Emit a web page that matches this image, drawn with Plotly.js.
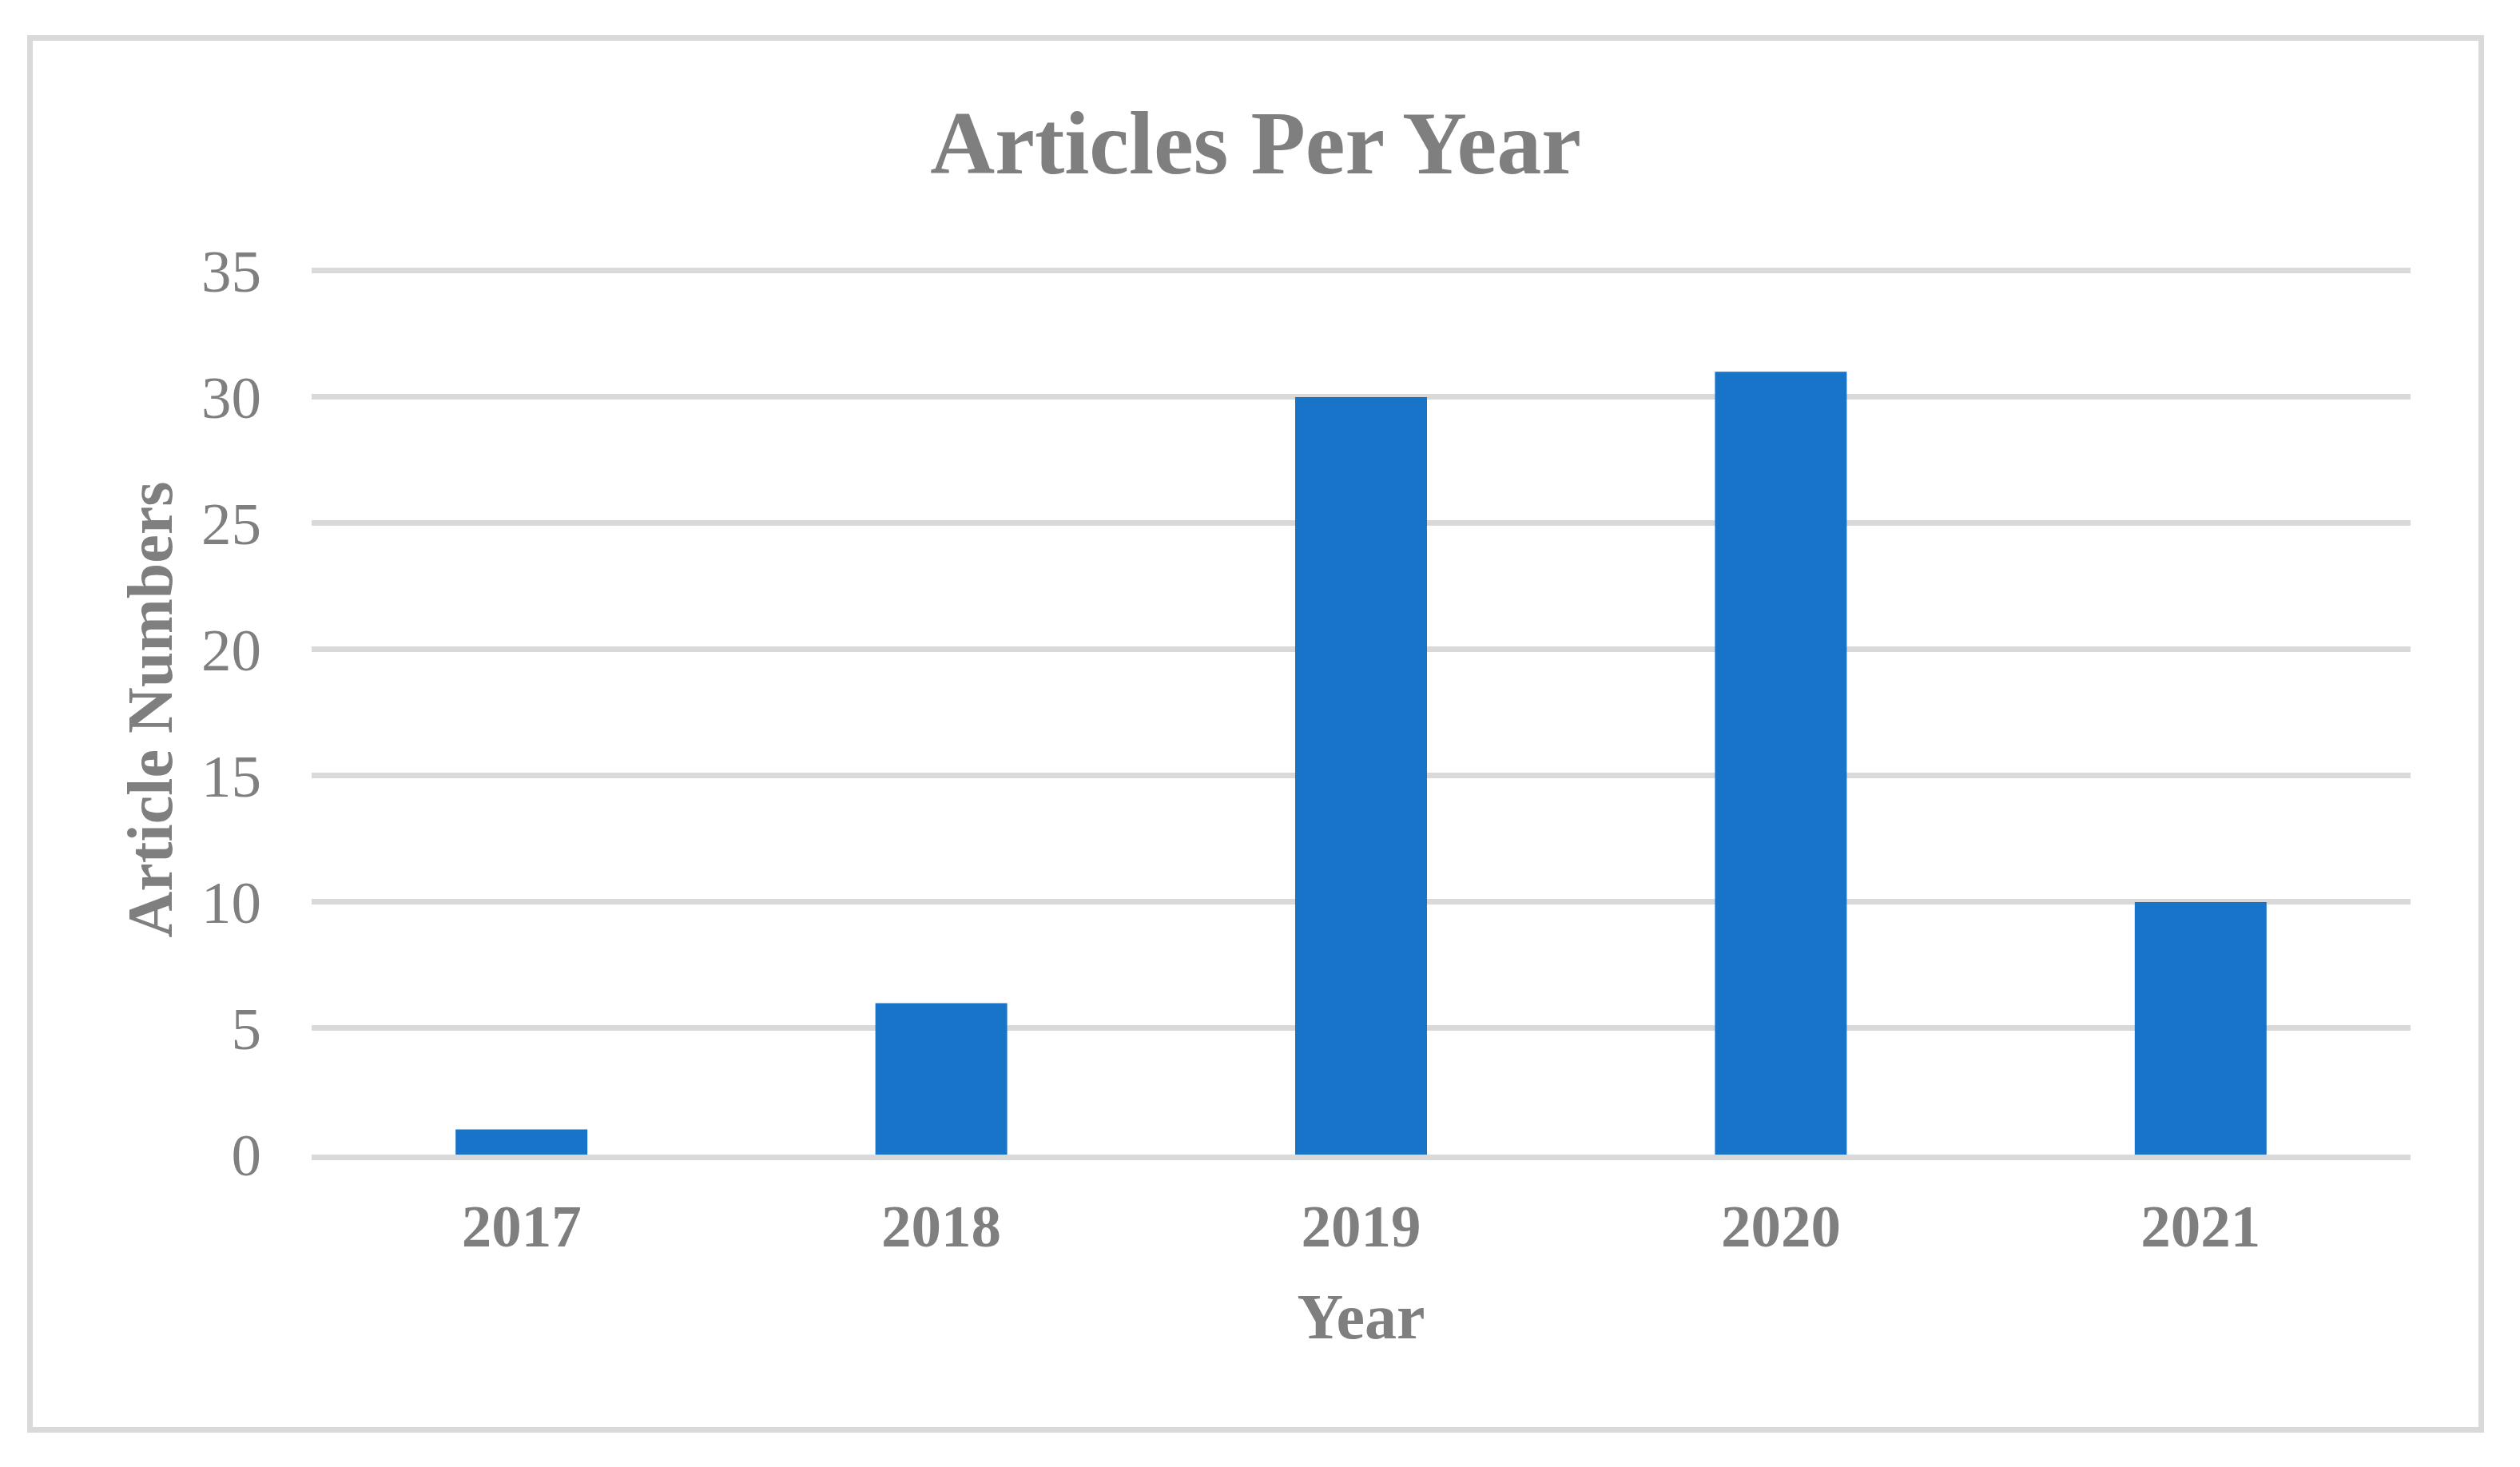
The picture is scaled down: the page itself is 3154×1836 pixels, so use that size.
<!DOCTYPE html>
<html>
<head>
<meta charset="utf-8">
<script src="https://cdn.plot.ly/plotly-3.0.1.min.js"></script>
<style>
  html, body { margin: 0; padding: 0; background: #ffffff; }
  #chart { width: 3154px; height: 1836px; }
  #frame { position: absolute; left: 34px; top: 44px; width: 3075px; height: 1749px;
           border: 7px solid #d9d9d9; box-sizing: border-box; pointer-events: none; }
</style>
</head>
<body>
<div id="chart"></div>
<div id="frame"></div>
<script>
const years = ['2017', '2018', '2019', '2020', '2021'];
const articleCounts = [1, 6, 30, 31, 10];
const yTicks = [0, 5, 10, 15, 20, 25, 30, 35];

const grey = '#7f7f7f';
const fontFamily = '"Liberation Serif", "Times New Roman", serif';

const trace = {
  type: 'bar',
  x: years,
  y: articleCounts,
  marker: { color: '#1874c9', line: { width: 0 } },
  hoverinfo: 'x+y'
};

const layout = {
  width: 3154,
  height: 1836,
  paper_bgcolor: '#ffffff',
  plot_bgcolor: '#ffffff',
  margin: { l: 390, r: 137, t: 330.6, b: 391, pad: 0 },
  showlegend: false,
  bargap: 0.686,
  font: { family: fontFamily, color: grey },
  title: {
    text: '<b>Articles Per Year</b>',
    font: { family: fontFamily, size: 112, color: grey },
    x: 0.4983, xanchor: 'center',
    xref: 'container',
    y: 1 - 178 / 1836, yref: 'container', yanchor: 'middle'
  },
  xaxis: {
    type: 'category',
    tickvals: years,
    ticktext: years.map(y => '<b>' + y + '</b>'),
    tickfont: { family: fontFamily, size: 75, color: grey },
    showgrid: false,
    zeroline: false,
    showline: true,
    linecolor: '#d9d9d9',
    linewidth: 7,
    ticks: '',
    ticklabelstandoff: 18,
    title: {
      text: '<b>Year</b>',
      font: { family: fontFamily, size: 80, color: grey },
      standoff: 46
    },
    fixedrange: true
  },
  yaxis: {
    range: [0, 35.25],
    tickvals: yTicks,
    ticktext: yTicks.map(String),
    tickfont: { family: fontFamily, size: 75, color: grey },
    showgrid: true,
    gridcolor: '#d9d9d9',
    gridwidth: 7,
    zeroline: false,
    showline: false,
    ticks: '',
    ticklabelstandoff: 62,
    title: {
      text: '<b>Article Numbers</b>',
      font: { family: fontFamily, size: 80, color: grey },
      standoff: 10
    },
    fixedrange: true
  }
};

Plotly.newPlot('chart', [trace], layout, { displayModeBar: false, staticPlot: true });
</script>
</body>
</html>
